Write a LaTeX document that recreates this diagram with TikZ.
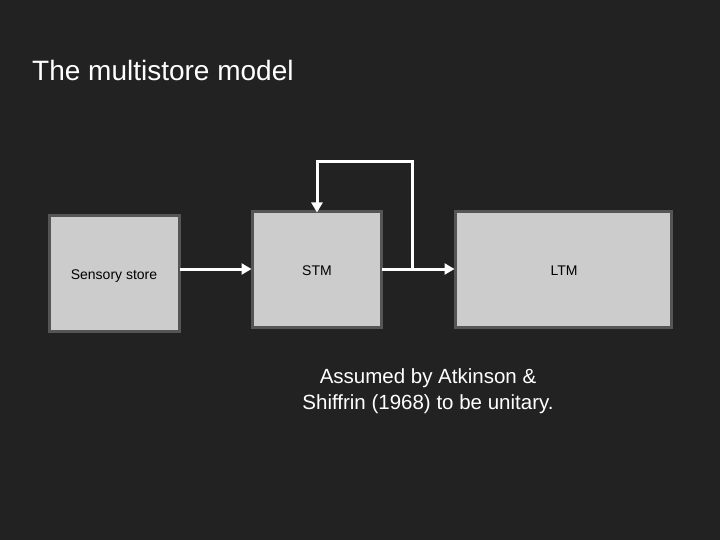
\documentclass[tikz,border=0pt]{standalone}
\usepackage{fontspec}
\setmainfont{Liberation Sans}
\usetikzlibrary{arrows.meta}
\begin{document}
\begin{tikzpicture}[x=1pt,y=-1pt,
  store/.style={draw=boxedge,fill=boxfill,line width=3pt,inner sep=0pt,outer sep=0pt,anchor=north west},
  tip/.style={-{Triangle[length=10pt,width=11pt]}},
  flow/.style={draw=white,line width=3pt,line join=miter,tip}]
\definecolor{bg}{HTML}{222222}
\definecolor{boxfill}{HTML}{CCCCCC}
\definecolor{boxedge}{HTML}{555555}
\fill[bg] (0,0) rectangle (720,540);
\useasboundingbox (0,0) rectangle (720,540);
\node[anchor=base west,text=white,font=\fontsize{28}{32}\selectfont,inner sep=0pt] (title) at (32,81) {The multistore model};
\node[store,minimum width=130pt,minimum height=116pt] (ss) at (49.5,215.5) {};
\node[store,minimum width=129pt,minimum height=116pt] (stm) at (252.5,211.5) {};
\node[store,minimum width=216pt,minimum height=116pt] (ltm) at (455.5,211.5) {};
\node[font=\fontsize{14}{16}\selectfont] (sst) at (114,276) {Sensory store};
\node[font=\fontsize{14}{16}\selectfont] (stmt) at (317,271) {STM};
\node[font=\fontsize{14}{16}\selectfont] (ltmt) at (564,271) {LTM};
\coordinate (j) at (412,269);
\coordinate (top1) at (412,162);
\coordinate (top2) at (317,162);
\draw[flow] (ss.east |- 0,269) -- ([xshift=-1pt]stm.west |- 0,269);
\draw[flow] (stm.east |- 0,269) -- ([xshift=-1pt]ltm.west |- 0,269);
\draw[flow] (j) -- (top1) -- (top2) -- ([yshift=-1pt]top2 |- stm.north);
\node[text=white,align=center,font=\fontsize{20.5}{26}\selectfont] (cap) at (428,391) {Assumed by Atkinson \&\\Shiffrin (1968) to be unitary.};
\end{tikzpicture}
\end{document}
